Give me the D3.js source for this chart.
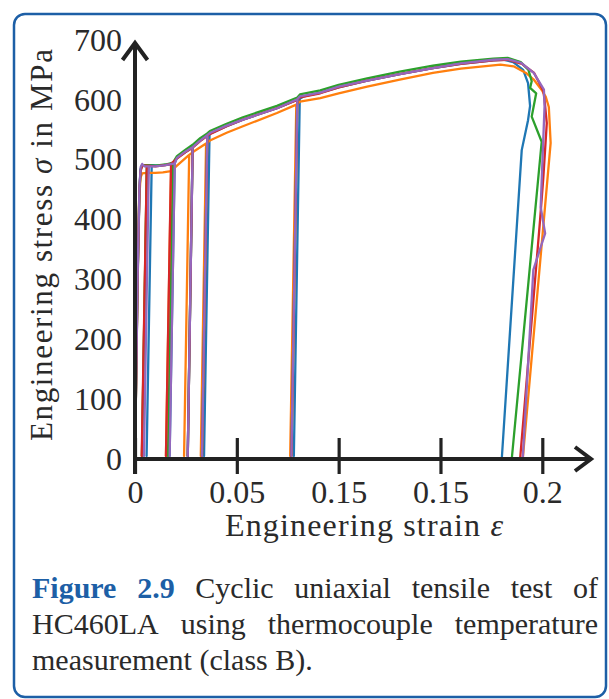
<!DOCTYPE html>
<html><head><meta charset="utf-8">
<script src="https://cdn.jsdelivr.net/npm/d3@7"></script>
<style>body{margin:0;background:#fff}svg{display:block}</style>
</head><body>
<svg id="chart" width="609" height="699"></svg>
<script>
// ---------- data (strain, stress in MPa) ----------
const xTicks = [0, 0.05, 0.1, 0.15, 0.2];
const xTickLabels = ["0", "0.05", "0.15", "0.15", "0.2"];
const yTicks = [0, 100, 200, 300, 400, 500, 600, 700];
const seriesColors = ["#1f77b4", "#ff7f0e", "#2ca02c", "#d62728", "#9467bd"];

const blueData = [[0,0],[0.0013,300],[0.0022,450],[0.0027,484],[0.0035,491],[0.006,491],[0.0082,491],
 [0.0057,5],[0.0082,491],[0.012,490],[0.0165,492],[0.0195,494],[0.017,5],[0.0195,494],
 [0.0206,503],[0.0245,512],[0.0283,521],[0.0259,5],[0.0283,521],[0.032,532],[0.0366,543],
 [0.0339,5],[0.0366,543],[0.045,556],[0.053,567],[0.0697,586],[0.0809,602],[0.078,5],[0.0809,602],
 [0.083,606],[0.091,612],[0.100,621],[0.114,632],[0.130,643],[0.1463,653],[0.160,660],[0.176,666],
 [0.181,667],[0.1857,663],[0.1906,650],[0.1930,628],[0.1940,590],[0.1930,566],[0.1899,516],[0.1801,0]];

const orangeData = [[0,0],[0.0012,280],[0.002,430],[0.0027,470],[0.0035,477],[0.0058,478],
 [0.0034,5],[0.0058,478],[0.010,478],[0.0137,479],[0.0177,481],[0.0152,5],[0.0177,481],
 [0.0190,485],[0.0206,490],[0.0266,508],[0.0241,5],[0.0266,508],[0.029,514],[0.0349,527],
 [0.0323,5],[0.0349,527],[0.0368,532],[0.045,545],[0.053,556],[0.0697,578],[0.0792,592],
 [0.0762,5],[0.0792,592],[0.081,597],[0.091,603],[0.100,611],[0.114,622],[0.130,634],[0.1463,645],
 [0.160,652],[0.1795,659],[0.1859,656],[0.1920,645],[0.1958,634],[0.2000,615],[0.2017,605],
 [0.2032,588],[0.2041,528],[0.1904,0]];

const greenData = [[0,0],[0.0012,290],[0.0021,440],[0.0027,482],[0.0035,491],[0.0058,491],
 [0.0034,5],[0.0058,491],[0.010,490],[0.015,492],[0.0187,495],[0.0162,5],[0.0187,495],
 [0.0206,506],[0.0245,516],[0.0283,525],[0.0259,5],[0.0283,525],[0.032,536],[0.0355,544],
 [0.0329,5],[0.0355,544],[0.0368,548],[0.045,560],[0.053,571],[0.0697,590],[0.0797,604],
 [0.0768,5],[0.0797,604],[0.081,609],[0.091,616],[0.100,625],[0.114,636],[0.130,647],[0.1463,657],
 [0.160,664],[0.176,669],[0.183,670],[0.1894,663],[0.1932,650],[0.1948,631],[0.1940,620],
 [0.1970,611],[0.1948,572],[0.1997,530],[0.1850,0]];

const redData = [[0,0],[0.0013,310],[0.0022,450],[0.0027,480],[0.0035,490],[0.0058,490],
 [0.0033,5],[0.0058,490],[0.010,489],[0.015,491],[0.0177,493],[0.0152,5],[0.0177,493],
 [0.0206,502],[0.0245,512],[0.0283,520],[0.0259,5],[0.0283,520],[0.032,531],[0.0355,540],
 [0.0329,5],[0.0355,540],[0.037,543],[0.045,556],[0.053,567],[0.0697,586],[0.0797,600],
 [0.0768,5],[0.0797,600],[0.081,604],[0.091,611],[0.100,621],[0.114,632],[0.130,643],[0.1463,653],
 [0.160,660],[0.176,666],[0.183,667],[0.190,660],[0.1960,645],[0.2005,615],[0.2011,600],
 [0.2022,561],[0.2005,470],[0.1989,399],[0.1891,0]];

const purpleData = [[0,0],[0.0013,310],[0.0022,455],[0.0028,488],[0.0035,493],[0.0045,489],[0.0068,489],
 [0.0044,5],[0.0068,489],[0.010,489],[0.015,491],[0.0195,494],[0.017,5],[0.0195,494],
 [0.0206,503],[0.0245,513],[0.0283,521],[0.0259,5],[0.0283,521],[0.032,532],[0.0355,541],
 [0.0329,5],[0.0355,541],[0.037,545],[0.045,557],[0.053,567],[0.0697,586],[0.0797,601],
 [0.0768,5],[0.0797,601],[0.081,606],[0.091,612],[0.100,622],[0.114,632],[0.130,643],[0.1463,653],
 [0.160,661],[0.176,667],[0.183,668],[0.1895,662],[0.1958,645],[0.2008,617],[0.2011,589],
 [0.1992,421],[0.2014,377],[0.1956,316],[0.1904,0]];

const seriesList = [blueData, orangeData, greenData, redData, purpleData];

const captionLines = [
  [{t:"Figure", b:true}, {t:"2.9", b:true}, {t:"Cyclic"}, {t:"uniaxial"}, {t:"tensile"}, {t:"test"}, {t:"of"}],
  [{t:"HC460LA"}, {t:"using"}, {t:"thermocouple"}, {t:"temperature"}],
  [{t:"measurement"}, {t:"(class"}, {t:"B)."}]
];

// ---------- drawing ----------
const svg = d3.select("#chart");
const FONT = "'Liberation Serif', 'DejaVu Serif', serif";
const TXT = "#2a2a2a", AX = "#222", BLUE = "#1d5fa6";

svg.append("rect").attr("x", 14).attr("y", 14).attr("width", 592).attr("height", 683)
  .attr("rx", 11).attr("fill", "none").attr("stroke", BLUE).attr("stroke-width", 2.5);

const x = d3.scaleLinear().domain([0, 0.2]).range([135, 542.3]);
const y = d3.scaleLinear().domain([0, 700]).range([459, 40]);

const line = d3.line().x(d => x(d[0])).y(d => y(d[1]));
svg.append("g").selectAll("path").data(seriesList).join("path")
  .attr("d", line).attr("fill", "none")
  .attr("stroke", (d, i) => seriesColors[i]).attr("stroke-width", 2.3)
  .attr("stroke-linejoin", "round");

// x axis
const gx = svg.append("g").attr("transform", `translate(0,${y(0)})`)
  .call(d3.axisBottom(x).tickValues(xTicks).tickFormat((d, i) => xTickLabels[i])
    .tickSize(15).tickPadding(6));
gx.select(".domain").remove();
gx.selectAll(".tick line").attr("y1", -21).attr("stroke", AX).attr("stroke-width", 3.2);
gx.selectAll(".tick text").attr("font-family", FONT).attr("font-size", 32).attr("fill", TXT);

// y axis labels
const gy = svg.append("g").attr("transform", `translate(${x(0)},0)`)
  .call(d3.axisLeft(y).tickValues(yTicks).tickSize(0).tickPadding(13).tickFormat(d3.format("d")));
gy.select(".domain").remove();
gy.selectAll(".tick text").attr("font-family", FONT).attr("font-size", 32).attr("fill", TXT);

// axis lines with arrows
const ax = svg.append("g").attr("stroke", AX).attr("stroke-width", 4).attr("fill", "none");
ax.append("line").attr("x1", x(0)).attr("x2", x(0)).attr("y1", 474).attr("y2", 43);
ax.append("path").attr("d", `M${x(0)-12.5},60 L${x(0)},43 L${x(0)+12.5},60`).attr("stroke-linejoin", "miter");
ax.append("line").attr("x1", x(0) - 2).attr("x2", 591).attr("y1", y(0)).attr("y2", y(0));
ax.append("path").attr("d", `M575,${y(0)-12} L591,${y(0)} L575,${y(0)+12}`);

// axis titles
svg.append("text").attr("x", 364).attr("y", 536).attr("text-anchor", "middle")
  .attr("font-family", FONT).attr("font-size", 32).attr("fill", TXT)
  .attr("textLength", 278).attr("lengthAdjust", "spacing")
  .html("Engineering strain <tspan font-style='italic'>ε</tspan>");
svg.append("text").attr("transform", "translate(52,245) rotate(-90)").attr("text-anchor", "middle")
  .attr("font-family", FONT).attr("font-size", 31).attr("fill", TXT)
  .attr("textLength", 392).attr("lengthAdjust", "spacing")
  .html("Engineering stress <tspan font-style='italic'>σ</tspan> in MPa");

// caption (justified lines)
const capLeft = 32, capRight = 598, baselines = [598, 634, 670];
captionLines.forEach((words, li) => {
  const nodes = words.map(w => svg.append("text")
    .attr("y", baselines[li]).attr("font-family", FONT).attr("font-size", 30)
    .attr("font-weight", w.b ? "bold" : "normal").attr("fill", w.b ? BLUE : TXT).text(w.t));
  const widths = nodes.map(n => n.node().getComputedTextLength());
  const total = d3.sum(widths);
  const gap = li < 2 ? (capRight - capLeft - total) / (words.length - 1) : 7.5;
  let cx = capLeft;
  nodes.forEach((n, i) => { n.attr("x", cx); cx += widths[i] + gap; });
});
</script>
</body></html>
